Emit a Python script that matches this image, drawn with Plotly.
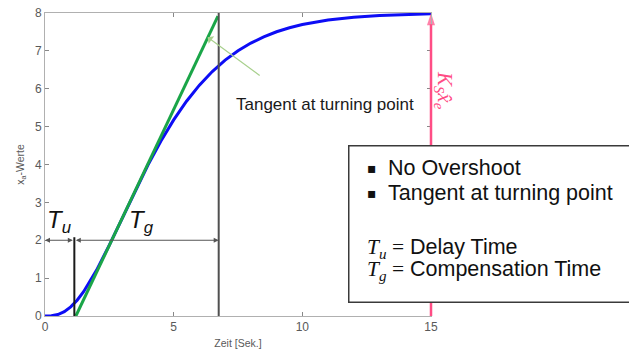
import plotly.graph_objects as go

# ---- data ----
t_vals = [0, 0.25, 0.5, 0.75, 1.0, 1.25, 1.5, 1.75, 2.0, 2.5, 3.0, 3.5, 4.0, 4.5, 5.0,
          5.5, 6.0, 6.5, 7.0, 7.5, 8.0, 8.5, 9.0, 9.5, 10, 11, 12, 13, 14, 15]
x_vals = [0, 0.006, 0.039, 0.115, 0.242, 0.418, 0.642, 0.907, 1.205, 1.872, 2.587, 3.302,
          3.986, 4.614, 5.178, 5.671, 6.095, 6.454, 6.755, 7.003, 7.206, 7.371, 7.504,
          7.611, 7.696, 7.816, 7.890, 7.935, 7.962, 7.978]
tangent_t = [1.2, 6.72]
tangent_x = [0.0, 7.92]
Tu = 1.14
Tg_end = 6.75
Tu_line_top = 2.08
marker_level = 2.0
K_end = 8.0
t_end = 15
x_ticks = [0, 5, 10, 15]
y_ticks = [0, 1, 2, 3, 4, 5, 6, 7, 8]

FONT = "Liberation Sans, Arial, sans-serif"
SERIF = "Liberation Serif, Times New Roman, serif"
PINK = "#ff4d85"
GRAY = "#595959"


def px(xp):
    return (xp - 45) / 386.0


def py(yp):
    return (316 - yp) / 303.0


fig = go.Figure()
fig.add_trace(go.Scatter(x=t_vals, y=x_vals, mode="lines",
                         line=dict(color="#0d0df5", width=3), hoverinfo="skip"))
fig.add_trace(go.Scatter(x=tangent_t, y=tangent_x, mode="lines",
                         line=dict(color="#1aa548", width=3), hoverinfo="skip"))
fig.add_trace(go.Scatter(x=[Tu, Tu], y=[0, Tu_line_top], mode="lines",
                         line=dict(color="#1a1a1a", width=2), hoverinfo="skip"))
fig.add_trace(go.Scatter(x=[Tg_end, Tg_end], y=[0, K_end], mode="lines",
                         line=dict(color="#505050", width=2), hoverinfo="skip"))
# pink arrow head at (15, 8)
fig.add_trace(go.Scatter(x=[t_end, t_end], y=[K_end - 1, K_end], mode="markers",
                         marker=dict(symbol="arrow", size=[0, 13], angleref="previous",
                                     color=PINK, line=dict(width=0)),
                         cliponaxis=False, hoverinfo="skip"))

shapes = [
    # pink vertical line (K_S x_e) at right edge
    dict(type="line", xref="paper", yref="paper", x0=1, x1=1, y0=0,
         y1=(K_end - 0.3) / 8.0, line=dict(color=PINK, width=2.5), layer="above"),
]

annotations = [
    # info box (drawn as an annotation so it sits above the pink line)
    dict(x=px(348), y=py(145), xref="paper", yref="paper", xanchor="left", yanchor="top",
         showarrow=False, text="\u00a0", width=320, height=155, bgcolor="white",
         bordercolor="#3a3a3a", borderwidth=1.5, borderpad=0),
    # T_u double arrow
    dict(x=0, y=marker_level, ax=Tu, ay=marker_level, xref="x", yref="y", axref="x",
         ayref="y", text="", showarrow=True, arrowhead=2, arrowside="end+start",
         arrowsize=1, arrowwidth=1, arrowcolor="#555555", standoff=0, startstandoff=0),
    # T_g double arrow
    dict(x=Tg_end, y=marker_level, ax=Tu, ay=marker_level, xref="x", yref="y", axref="x",
         ayref="y", text="", showarrow=True, arrowhead=2, arrowside="end+start",
         arrowsize=1, arrowwidth=1, arrowcolor="#555555", standoff=0, startstandoff=0),
    # T labels
    dict(x=0.56, y=2.5, xref="x", yref="y", showarrow=False,
         text="<i>T</i><sub><i>u</i></sub>", font=dict(family=FONT, size=24, color="#111111")),
    dict(x=3.75, y=2.5, xref="x", yref="y", showarrow=False,
         text="<i>T</i><sub><i>g</i></sub>", font=dict(family=FONT, size=24, color="#111111")),
    # tangent pointer arrow
    dict(x=6.32, y=7.36, ax=8.4, ay=6.32, xref="x", yref="y", axref="x", ayref="y",
         text="", showarrow=True, arrowhead=1, arrowsize=1.3, arrowwidth=1.2,
         arrowcolor="#a8d08d", standoff=0),
    dict(x=px(234), y=py(93), xref="paper", yref="paper", xanchor="left", showarrow=False,
         text="Tangent at turning point", font=dict(family=FONT, size=17, color="#1a1a1a")),
    # K_S x_e label
    dict(x=px(444), y=py(91), xref="paper", yref="paper", xanchor="center", yanchor="middle",
         showarrow=False, textangle=90,
         text="<i>K<sub>S</sub>x̂<sub>e</sub></i>",
         font=dict(family=SERIF, size=21, color=PINK)),
]

box_lines = [
    ("▪", "No Overshoot", 168),
    ("▪", "Tangent at turning point", 193),
]
for b, txt, yp in box_lines:
    annotations.append(dict(x=px(372), y=py(yp), xref="paper", yref="paper", showarrow=False,
                            text=b, xanchor="center",
                            font=dict(family="DejaVu Sans", size=14, color="#111111")))
    annotations.append(dict(x=px(386), y=py(yp), xref="paper", yref="paper", showarrow=False,
                            text=txt, xanchor="left",
                            font=dict(family=FONT, size=21.5, color="#111111")))

def_lines = [
    ("u", "Delay Time", 264),
    ("g", "Compensation Time", 286),
]
for sub, txt, yp in def_lines:
    annotations.append(dict(
        x=px(365), y=py(yp), xref="paper", yref="paper", showarrow=False, xanchor="left",
        text=(f"<span style='font-family:{SERIF}'><i>T</i><sub><i>{sub}</i></sub> =</span> {txt}"),
        font=dict(family=FONT, size=21.5, color="#111111")))

fig.update_layout(
    width=629, height=350,
    margin=dict(l=45, r=198, t=13, b=34, autoexpand=False),
    paper_bgcolor="white", plot_bgcolor="white",
    showlegend=False,
    shapes=shapes, annotations=annotations,
    font=dict(family=FONT, color=GRAY, size=12),
)
fig.update_xaxes(range=[0, 15], tickvals=x_ticks, ticks="inside", ticklen=4,
                 tickcolor="#888888", showline=True, linecolor="#b0b0b0", linewidth=1,
                 mirror="ticks", showgrid=False, zeroline=False,
                 tickfont=dict(size=12, color=GRAY),
                 title=dict(text="Zeit [Sek.]", font=dict(size=10.5, color=GRAY), standoff=6))
fig.update_yaxes(range=[0, 8], tickvals=y_ticks, ticks="inside", ticklen=4,
                 tickcolor="#888888", showline=True, linecolor="#b0b0b0", linewidth=1,
                 mirror="ticks", showgrid=False, zeroline=False,
                 tickfont=dict(size=12, color=GRAY),
                 title=dict(text="x<sub>a</sub>-Werte", font=dict(size=10.5, color=GRAY),
                            standoff=8))

fig.write_html("out.html")
